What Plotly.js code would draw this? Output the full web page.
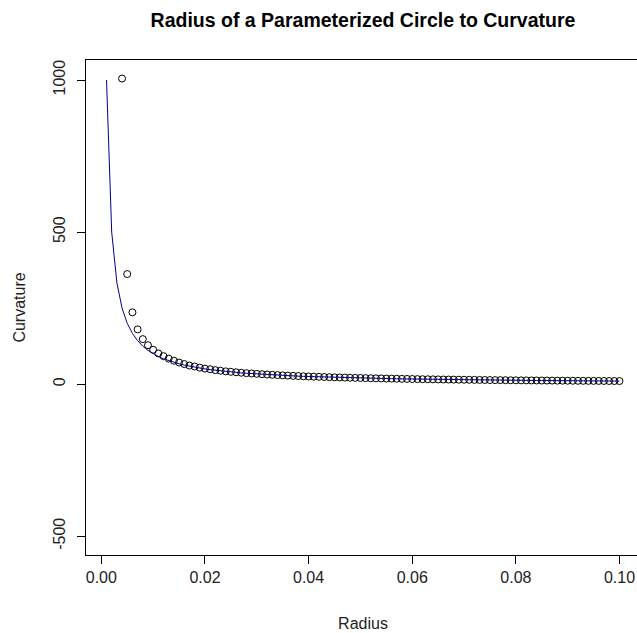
<!DOCTYPE html>
<html>
<head>
<meta charset="utf-8">
<script src="https://cdn.plot.ly/plotly-3.0.1.min.js"></script>
<style>
html, body { margin: 0; padding: 0; overflow: hidden; background: #fff; }
#chart { width: 641px; height: 633px; }
</style>
</head>
<body>
<div id="chart"></div>
<script>
// Sampled radius values and estimated curvature (points)
var pointRadius = [0.004,0.005,0.006,0.007,0.008,0.009,0.010,0.011,0.012,0.013,0.014,0.015,0.016,0.017,0.018,0.019,0.020,
  0.021,0.022,0.023,0.024,0.025,0.026,0.027,0.028,0.029,0.030,0.031,0.032,0.033,0.034,0.035,0.036,0.037,0.038,0.039,0.040,
  0.041,0.042,0.043,0.044,0.045,0.046,0.047,0.048,0.049,0.050,0.051,0.052,0.053,0.054,0.055,0.056,0.057,0.058,0.059,0.060,
  0.061,0.062,0.063,0.064,0.065,0.066,0.067,0.068,0.069,0.070,0.071,0.072,0.073,0.074,0.075,0.076,0.077,0.078,0.079,0.080,
  0.081,0.082,0.083,0.084,0.085,0.086,0.087,0.088,0.089,0.090,0.091,0.092,0.093,0.094,0.095,0.096,0.097,0.098,0.099,0.100];
var pointCurvature = [1005,362,236,180,148,128,113,101,92,84,77,71,66,61,58,54,51,
  49,46,44,42,40.5,39,37.5,36,35,33.8,32.6,31.6,30.6,29.7,28.8,28,27.2,26.5,25.8,25.2,
  24.5,24,23.4,22.9,22.4,21.9,21.4,21,20.6,20.2,19.8,19.4,19,18.7,18.3,18,17.7,17.4,17.1,16.8,
  16.5,16.2,16,15.7,15.5,15.2,15,14.8,14.6,14.4,14.2,14,13.8,13.6,13.4,13.2,13.1,12.9,12.7,12.6,
  12.4,12.3,12.1,12,11.8,11.7,11.6,11.4,11.3,11.2,11,10.9,10.8,10.7,10.6,10.5,10.4,10.3,10.2,10.1];

// Theoretical curve (radius -> curvature)
var curveRadius = [0.001,0.002,0.003,0.004,0.005,0.006,0.007,0.008,0.009,0.010,0.011,0.012,0.013,0.014,0.015,0.016,0.017,0.018,0.019,0.020,
  0.021,0.022,0.023,0.024,0.025,0.026,0.027,0.028,0.029,0.030,0.031,0.032,0.033,0.034,0.035,0.036,0.037,0.038,0.039,0.040,
  0.041,0.042,0.043,0.044,0.045,0.046,0.047,0.048,0.049,0.050,0.051,0.052,0.053,0.054,0.055,0.056,0.057,0.058,0.059,0.060,
  0.061,0.062,0.063,0.064,0.065,0.066,0.067,0.068,0.069,0.070,0.071,0.072,0.073,0.074,0.075,0.076,0.077,0.078,0.079,0.080,
  0.081,0.082,0.083,0.084,0.085,0.086,0.087,0.088,0.089,0.090,0.091,0.092,0.093,0.094,0.095,0.096,0.097,0.098,0.099,0.100];
var curveCurvature = [1000,500,333.3,250,200,166.7,142.9,125,111.1,100,90.9,83.3,76.9,71.4,66.7,62.5,58.8,55.6,52.6,50,
  47.6,45.5,43.5,41.7,40,38.5,37,35.7,34.5,33.3,32.3,31.3,30.3,29.4,28.6,27.8,27,26.3,25.6,25,
  24.4,23.8,23.3,22.7,22.2,21.7,21.3,20.8,20.4,20,19.6,19.2,18.9,18.5,18.2,17.9,17.5,17.2,16.9,16.7,
  16.4,16.1,15.9,15.6,15.4,15.2,14.9,14.7,14.5,14.3,14.1,13.9,13.7,13.5,13.3,13.2,13,12.8,12.7,12.5,
  12.3,12.2,12,11.9,11.8,11.6,11.5,11.4,11.2,11.1,11,10.9,10.8,10.6,10.5,10.4,10.3,10.2,10.1,10];

var xTicks = [0, 0.02, 0.04, 0.06, 0.08, 0.10];
var xTickText = ["0.00", "0.02", "0.04", "0.06", "0.08", "0.10"];
var yTicks = [-500, 0, 500, 1000];
var yTickText = ["-500", "0", "500", "1000"];

var FONT = "Liberation Sans, Arial, sans-serif";

var traces = [
  {
    x: pointRadius, y: pointCurvature, type: "scatter", mode: "markers",
    marker: { symbol: "circle-open", size: 7, color: "#000", line: { width: 1, color: "#000" } },
    hoverinfo: "x+y", showlegend: false
  },
  {
    x: curveRadius, y: curveCurvature, type: "scatter", mode: "lines",
    line: { color: "#00008B", width: 1 },
    hoverinfo: "x+y", showlegend: false
  }
];

var layout = {
  width: 641, height: 633,
  margin: { l: 86, r: 1, t: 60, b: 78, pad: 0 },
  paper_bgcolor: "#fff", plot_bgcolor: "#fff",
  font: { family: FONT, size: 16, color: "#000" },
  title: {
    text: "<b>Radius of a Parameterized Circle to Curvature</b>",
    font: { family: FONT, size: 19.5, color: "#000" },
    x: 0.5, xref: "paper", xanchor: "center",
    y: 0.968, yref: "container", yanchor: "middle"
  },
  xaxis: {
    range: [-0.00296, 0.10396], autorange: false,
    tickmode: "array", tickvals: xTicks, ticktext: xTickText,
    ticks: "outside", ticklen: 8, tickwidth: 1, tickcolor: "#000",
    showline: true, mirror: true, linecolor: "#000", linewidth: 1,
    showgrid: false, zeroline: false,
    tickfont: { family: FONT, size: 16, color: "#222" },
    title: { text: "Radius", font: { family: FONT, size: 16, color: "#222" }, standoff: 32 }
  },
  yaxis: {
    range: [-562, 1066], autorange: false,
    tickmode: "array", tickvals: yTicks, ticktext: yTickText,
    tickangle: -90, ticklabelstandoff: 6,
    ticks: "outside", ticklen: 8, tickwidth: 1, tickcolor: "#000",
    showline: true, mirror: true, linecolor: "#000", linewidth: 1,
    showgrid: false, zeroline: false,
    tickfont: { family: FONT, size: 16, color: "#222" },
    title: { text: "Curvature", font: { family: FONT, size: 16, color: "#222" }, standoff: 20 }
  }
};

Plotly.newPlot("chart", traces, layout, { displayModeBar: false, staticPlot: true });
</script>
</body>
</html>
